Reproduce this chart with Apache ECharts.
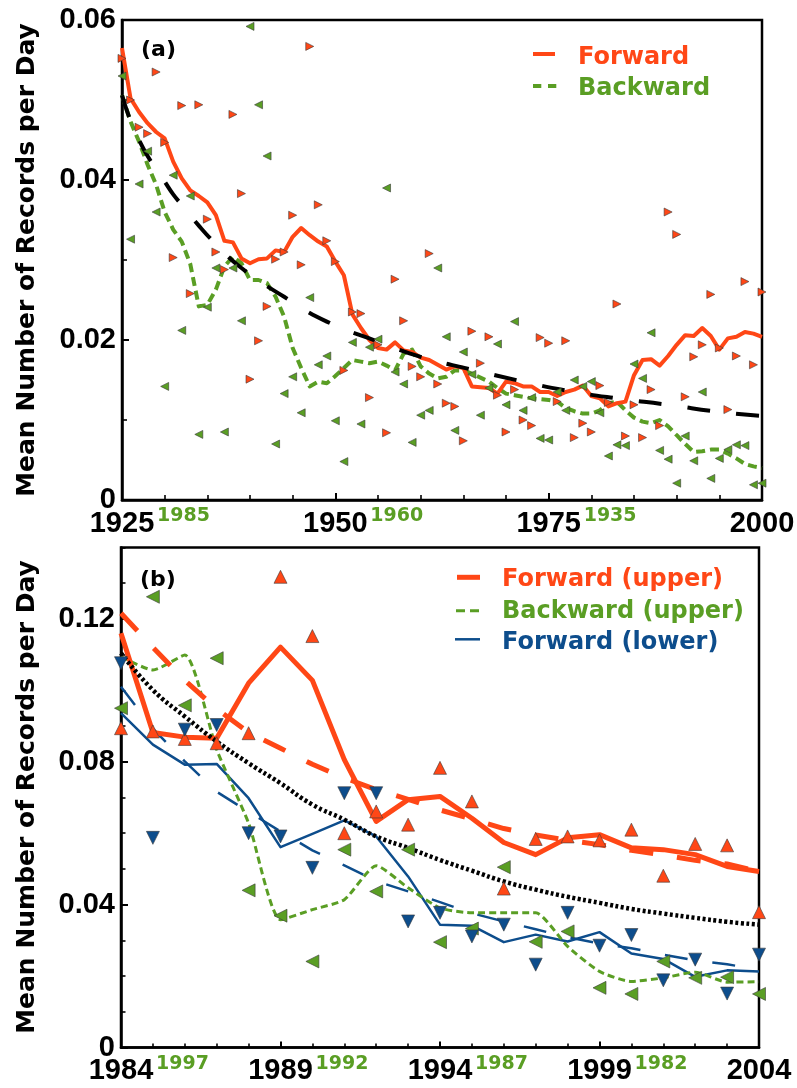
<!DOCTYPE html>
<html>
<head>
<meta charset="utf-8">
<script src="https://cdn.jsdelivr.net/npm/echarts@6/dist/echarts.min.js"></script>
<style>
html,body{margin:0;padding:0;background:#fff;}
#chart{width:797px;height:1088px;}
</style>
</head>
<body>
<div id="chart"></div>
<script>
// ---------- Panel (a): 1925-2000 ----------
const startA = 1925;
const fwdPointsA = [0.0552,0.0500,0.0466,0.0458,0.0535,0.0447,0.0303,0.0493,0.0258,0.0494,
  0.0351,0.0310,0.0288,0.0482,0.0383,0.0151,0.0199,0.0242,0.0301,0.0310,
  0.0356,0.0294,0.0567,0.0369,0.0324,0.0298,0.0162,0.0235,0.0233,0.0128,
  0.0194,0.0084,0.0276,0.0224,0.0167,0.0154,0.0308,0.0145,0.0121,0.0117,
  0.0074,0.0211,0.0171,0.0204,0.0131,0.0085,0.0138,0.0100,0.0093,0.0203,
  0.0196,0.0123,0.0199,0.0078,0.0096,0.0085,0.0143,0.0122,0.0245,0.0080,
  0.0119,0.0078,0.0138,0.0093,0.0360,0.0332,0.0129,0.0179,0.0194,0.0257,
  0.0190,0.0113,0.0180,0.0273,0.0169,0.0260];
const bwdPointsA = [0.0530,0.0326,0.0395,0.0436,0.0360,0.0142,0.0406,0.0212,0.0380,0.0082,
  0.0241,0.0290,0.0085,0.0290,0.0224,0.0592,0.0494,0.0430,0.0070,0.0133,
  0.0154,0.0109,0.0253,0.0169,0.0180,0.0099,0.0048,0.0197,0.0095,0.0191,
  0.0201,0.0390,0.0160,0.0145,0.0072,0.0106,0.0112,0.0290,0.0204,0.0087,
  0.0185,0.0157,0.0106,0.0140,0.0195,0.0119,0.0223,0.0112,0.0128,0.0077,
  0.0075,0.0135,0.0112,0.0150,0.0142,0.0148,0.0109,0.0055,0.0069,0.0068,
  0.0170,0.0152,0.0209,0.0062,0.0051,0.0021,0.0080,0.0049,0.0135,0.0027,
  0.0052,0.0063,0.0069,0.0068,0.0019,0.0021];
const fwdLineA = [0.0565,0.0502,0.0485,0.0471,0.0460,0.0452,0.0423,0.0402,0.0387,0.0380,
  0.0372,0.0356,0.0324,0.0322,0.0302,0.0296,0.0301,0.0302,0.0312,0.0310,
  0.0329,0.0340,0.0331,0.0323,0.0317,0.0298,0.0281,0.0232,0.0215,0.0200,
  0.0190,0.0188,0.0197,0.0187,0.0185,0.0178,0.0175,0.0169,0.0163,0.0167,
  0.0165,0.0142,0.0141,0.0140,0.0133,0.0148,0.0146,0.0142,0.0142,0.0135,
  0.0135,0.0130,0.0135,0.0138,0.0143,0.0130,0.0127,0.0117,0.0121,0.0123,
  0.0156,0.0175,0.0176,0.0168,0.0180,0.0194,0.0206,0.0205,0.0215,0.0205,
  0.0188,0.0202,0.0204,0.0210,0.0208,0.0204];
const bwdLineA = [0.0506,0.0473,0.0448,0.0419,0.0394,0.0360,0.0338,0.0323,0.0295,0.0242,
  0.0244,0.0263,0.0292,0.0304,0.0296,0.0275,0.0275,0.0271,0.0254,0.0229,
  0.0190,0.0165,0.0142,0.0148,0.0146,0.0155,0.0165,0.0175,0.0173,0.0171,
  0.0173,0.0168,0.0162,0.0183,0.0188,0.0167,0.0158,0.0152,0.0154,0.0162,
  0.0162,0.0158,0.0153,0.0148,0.0140,0.0133,0.0131,0.0129,0.0127,0.0126,
  0.0125,0.0123,0.0115,0.0111,0.0108,0.0108,0.0112,0.0121,0.0123,0.0112,
  0.0103,0.0098,0.0096,0.0100,0.0092,0.0081,0.0070,0.0060,0.0061,0.0063,
  0.0063,0.0058,0.0052,0.0045,0.0042,0.0040];
const fitYearsA = [1925,1926,1927,1928,1929,1930,1931,1932,1934,1936,1939,1944,1949,1955,1960,1966,1972,1977,1983,1989,1995,2000];
const fitValuesA = [0.0506,0.0474,0.0450,0.0430,0.0414,0.0398,0.0382,0.0369,0.0343,0.0320,0.0290,0.0254,0.0223,0.0198,0.0179,0.0163,0.0148,0.0137,0.0127,0.0119,0.0110,0.0105];
const tickYearsA = [1925,1950,1975,2000];
const backLabelsA = ['1985','1960','1935',''];

// ---------- Panel (b): 1984-2004 ----------
const startB = 1984;
const fwdUpPointsB = [0.0894,0.0885,0.0864,0.0852,0.0880,0.1318,0.1152,0.0600,0.0661,0.0624,
  0.0783,0.0689,0.0445,0.0584,0.0591,0.0580,0.0610,0.0481,0.0570,0.0566,0.0379];
const bwdUpPointsB = [0.0950,0.1262,0.0958,0.1090,0.0440,0.0369,0.0241,0.0554,0.0437,0.0554,
  0.0295,0.0333,0.0505,0.0296,0.0325,0.0167,0.0150,0.0241,0.0195,0.0197,0.0150];
const fwdLowPointsB = [0.1076,0.0587,0.0890,0.0903,0.0600,0.0591,0.0503,0.0712,0.0712,0.0353,
  0.0377,0.0311,0.0344,0.0232,0.0377,0.0285,0.0315,0.0188,0.0246,0.0151,0.0260];
const fwdUpLineB = [0.1160,0.0882,0.0869,0.0866,0.1020,0.1121,0.1028,0.0806,0.0633,0.0694,
  0.0703,0.0642,0.0574,0.0540,0.0587,0.0596,0.0559,0.0554,0.0540,0.0507,0.0493];
const fwdUpFitB = [0.1216,0.1120,0.1028,0.0948,0.0882,0.0838,0.0793,0.0755,0.0722,0.0695,
  0.0665,0.0640,0.0613,0.0595,0.0580,0.0568,0.0552,0.0539,0.0524,0.0514,0.0493];
const bwdUpLineB = [0.1094,0.1057,0.1099,0.0834,0.0628,0.0358,0.0386,0.0414,0.0509,0.0447,
  0.0391,0.0377,0.0377,0.0377,0.0283,0.0213,0.0185,0.0195,0.0211,0.0183,0.0184];
const fwdLowLineB = [0.0936,0.0848,0.0792,0.0794,0.0698,0.0561,0.0598,0.0636,0.0591,0.0479,
  0.0344,0.0341,0.0295,0.0316,0.0297,0.0323,0.0263,0.0248,0.0198,0.0216,0.0213];
const fwdLowFitB = [0.1010,0.0893,0.0801,0.0716,0.0660,0.0605,0.0552,0.0510,0.0466,0.0437,
  0.0407,0.0376,0.0353,0.0331,0.0309,0.0291,0.0278,0.0260,0.0244,0.0233,0.0218];
const fitB = [0.1104,0.1001,0.0927,0.0857,0.0796,0.0740,0.0680,0.0638,0.0591,0.0559,
  0.0525,0.0495,0.0465,0.0442,0.0422,0.0405,0.0388,0.0375,0.0363,0.0352,0.0344];
const tickYearsB = [1984,1989,1994,1999,2004];
const backLabelsB = ['1997','1992','1987','1982',''];

// ---------- styling ----------
const RED = '#ff4716';
const GREEN = '#5a9e24';
const BLUE = '#0d4d8c';
const TICK_FONT = '"Liberation Sans", Arial, sans-serif';
const TEXT_FONT = '"DejaVu Sans", sans-serif';

const pairs = (start, vals) => vals.map((v, i) => [start + i, v]);
const zip = (xs, ys) => xs.map((x, i) => [x, ys[i]]);
const backLabel = (ticks, labels) => v => {
  const i = ticks.indexOf(Math.round(v));
  return i >= 0 ? labels[i] : '';
};

function mainX(grid, min, max, interval, minorSplit, majorLen, minorLen) {
  return {
    gridIndex: grid, type: 'value', min, max, interval, position: 'bottom',
    axisLine: { show: true, onZero: false, lineStyle: { color: '#000', width: 2.5 } },
    axisTick: { show: true, inside: true, length: majorLen, lineStyle: { color: '#000', width: 2 } },
    minorTick: { show: true, splitNumber: minorSplit, length: minorLen, lineStyle: { color: '#000', width: 1.6 } },
    splitLine: { show: false },
    axisLabel: { show: true, margin: 9, fontSize: 29, fontWeight: 'bold', color: '#000', fontFamily: TICK_FONT,
      hideOverlap: false, formatter: v => String(Math.round(v)) }
  };
}
function backX(grid, min, max, interval, ticks, labels) {
  return {
    gridIndex: grid, type: 'value', min, max, interval, position: 'bottom',
    axisLine: { show: false }, axisTick: { show: false }, splitLine: { show: false },
    axisLabel: { show: true, margin: 7, align: 'left', padding: [0, 0, 0, 35],
      fontSize: 19, fontWeight: 'bold', color: GREEN, fontFamily: TEXT_FONT, hideOverlap: false,
      formatter: backLabel(ticks, labels) }
  };
}
function mainY(grid, max, interval, minorSplit) {
  const ax = {
    gridIndex: grid, type: 'value', min: 0, max, interval, position: 'left',
    axisLine: { show: true, onZero: false, lineStyle: { color: '#000', width: 2.5 } },
    axisTick: { show: true, inside: true, length: 7, lineStyle: { color: '#000', width: 2 } },
    splitLine: { show: false },
    axisLabel: { show: true, margin: 6, fontSize: 29, fontWeight: 'bold', color: '#000', fontFamily: TICK_FONT,
      showMaxLabel: false, hideOverlap: false,
      formatter: v => (Math.abs(v) < 1e-9 ? '0' : v.toFixed(2)) }
  };
  if (minorSplit) {
    ax.minorTick = { show: true, splitNumber: minorSplit, length: 5, lineStyle: { color: '#000', width: 1.6 } };
    ax.axisLabel.showMaxLabel = true;
  }
  return ax;
}

function scatter(x, y, data, color, rot, size) {
  return {
    type: 'scatter', xAxisIndex: x, yAxisIndex: y, data, symbol: 'triangle', symbolRotate: rot, symbolSize: size,
    itemStyle: { color, opacity: 1, borderColor: '#3a3a3a', borderWidth: 0.6 }, z: 5, silent: true
  };
}
function line(x, y, data, color, width, type, smooth, z) {
  return {
    type: 'line', xAxisIndex: x, yAxisIndex: y, data, showSymbol: false, symbol: 'none', smooth: smooth || false,
    lineStyle: { color, width, opacity: 1, type: type || 'solid', cap: 'butt', join: 'round' }, z: z || 2, silent: true
  };
}

const option = {
  animation: false,
  backgroundColor: '#fff',
  grid: [
    { left: 122, top: 20, width: 640, height: 480, show: true, borderColor: '#000', borderWidth: 2.5, backgroundColor: 'transparent', outerBoundsMode: 'none' },
    { left: 121, top: 547.5, width: 638, height: 500, show: true, borderColor: '#000', borderWidth: 2.5, backgroundColor: 'transparent', outerBoundsMode: 'none' }
  ],
  xAxis: [
    mainX(0, 1925, 2000, 25, 5, 7, 5),
    backX(0, 1925, 2000, 25, tickYearsA, backLabelsA),
    mainX(1, 1984, 2004, 5, 5, 6, 4),
    backX(1, 1984, 2004, 5, tickYearsB, backLabelsB)
  ],
  yAxis: [
    mainY(0, 0.06, 0.02, 2),
    mainY(1, 0.14, 0.04, 0),
    { gridIndex: 1, type: 'value', min: 0, max: 0.14, interval: 0.01, position: 'left',
      axisLine: { show: false }, axisLabel: { show: false }, splitLine: { show: false },
      axisTick: { show: true, inside: true, length: 4.5, lineStyle: { color: '#000', width: 1.6 } } }
  ],
  series: [
    // panel (a)
    line(0, 0, zip(fitYearsA, fitValuesA), '#000', 4, [23, 26], true, 3),
    line(0, 0, pairs(startA, bwdLineA), GREEN, 4, [9, 5], false, 2),
    line(0, 0, pairs(startA, fwdLineA), RED, 4, 'solid', false, 2),
    scatter(0, 0, pairs(startA, bwdPointsA), GREEN, 90, 8),
    scatter(0, 0, pairs(startA, fwdPointsA), RED, -90, 8),
    // panel (b)
    line(2, 1, pairs(startB, fitB), '#000', 4.5, [3, 2.5], true, 3),
    line(2, 1, pairs(startB, fwdLowFitB), BLUE, 2.5, [23, 25], false, 2),
    line(2, 1, pairs(startB, fwdLowLineB), BLUE, 2.5, 'solid', false, 2),
    line(2, 1, pairs(startB, bwdUpLineB), GREEN, 3, [7, 4], 0.2, 2),
    line(2, 1, pairs(startB, fwdUpFitB), RED, 5, [24, 24], false, 2),
    line(2, 1, pairs(startB, fwdUpLineB), RED, 5, 'solid', false, 2),
    scatter(2, 1, pairs(startB, bwdUpPointsB), GREEN, 90, 13),
    scatter(2, 1, pairs(startB, fwdUpPointsB), RED, 0, 13),
    scatter(2, 1, pairs(startB, fwdLowPointsB), BLUE, 180, 13)
  ],
  graphic: [
    // axis titles
    { type: 'text', x: 27, y: 260, rotation: Math.PI / 2, z: 10,
      style: { text: 'Mean Number of Records per Day', font: 'bold 25px ' + TEXT_FONT, fill: '#000', align: 'center', verticalAlign: 'middle' } },
    { type: 'text', x: 27, y: 797, rotation: Math.PI / 2, z: 10,
      style: { text: 'Mean Number of Records per Day', font: 'bold 25px ' + TEXT_FONT, fill: '#000', align: 'center', verticalAlign: 'middle' } },
    // panel tags
    { type: 'text', x: 141, y: 50, z: 10, style: { text: '(a)', font: 'bold 22px ' + TEXT_FONT, fill: '#000', verticalAlign: 'middle' } },
    { type: 'text', x: 140, y: 580, z: 10, style: { text: '(b)', font: 'bold 22px ' + TEXT_FONT, fill: '#000', verticalAlign: 'middle' } },
    // legend (a)
    { type: 'line', z: 10, shape: { x1: 533, y1: 54, x2: 555, y2: 54 }, style: { stroke: RED, lineWidth: 4 } },
    { type: 'line', z: 10, shape: { x1: 533, y1: 86, x2: 556.5, y2: 86 }, style: { stroke: GREEN, lineWidth: 4, lineDash: [8.3, 6.7] } },
    { type: 'text', x: 578, y: 58, z: 10, style: { text: 'Forward', font: 'bold 24px ' + TEXT_FONT, fill: RED, verticalAlign: 'middle' } },
    { type: 'text', x: 578, y: 88.6, z: 10, style: { text: 'Backward', font: 'bold 24px ' + TEXT_FONT, fill: GREEN, verticalAlign: 'middle' } },
    // legend (b)
    { type: 'line', z: 10, shape: { x1: 457, y1: 577.3, x2: 480, y2: 577.3 }, style: { stroke: RED, lineWidth: 5 } },
    { type: 'line', z: 10, shape: { x1: 456, y1: 610.7, x2: 479, y2: 610.7 }, style: { stroke: GREEN, lineWidth: 3, lineDash: [9, 5] } },
    { type: 'line', z: 10, shape: { x1: 455, y1: 639.3, x2: 480, y2: 639.3 }, style: { stroke: BLUE, lineWidth: 2.5 } },
    { type: 'text', x: 502, y: 580.1, z: 10, style: { text: 'Forward (upper)', font: 'bold 24px ' + TEXT_FONT, fill: RED, verticalAlign: 'middle' } },
    { type: 'text', x: 502, y: 611.8, z: 10, style: { text: 'Backward (upper)', font: 'bold 24px ' + TEXT_FONT, fill: GREEN, verticalAlign: 'middle' } },
    { type: 'text', x: 502, y: 642.8, z: 10, style: { text: 'Forward (lower)', font: 'bold 24px ' + TEXT_FONT, fill: BLUE, verticalAlign: 'middle' } }
  ]
};

const chart = echarts.init(document.getElementById('chart'), null, { renderer: 'canvas' });
chart.setOption(option);
</script>
</body>
</html>
